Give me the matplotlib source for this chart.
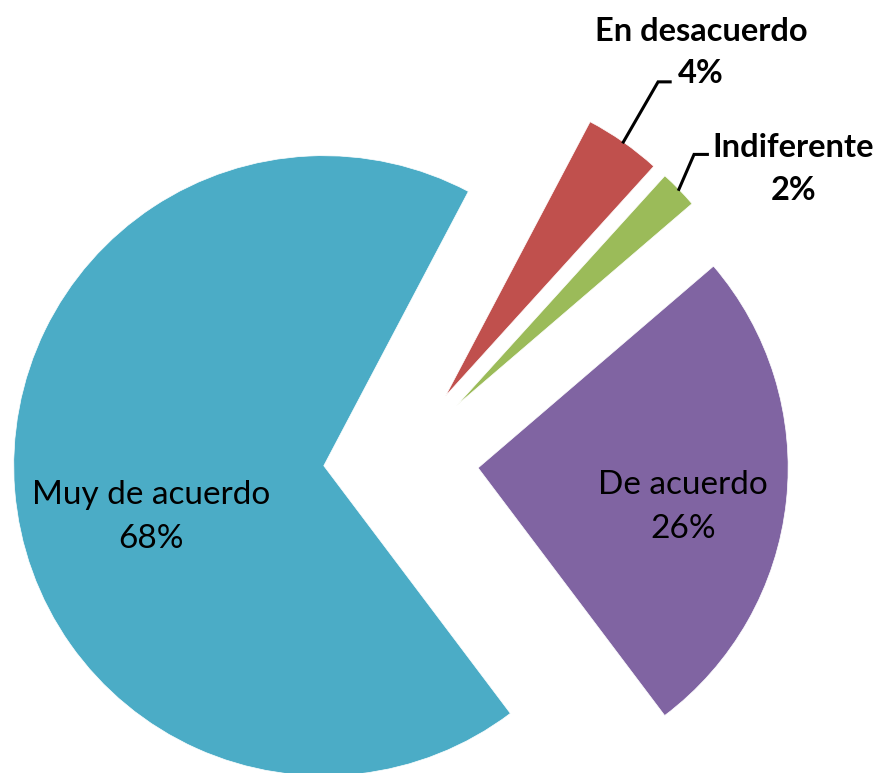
import numpy as np
import matplotlib
matplotlib.use('Agg')
import matplotlib.pyplot as plt

# Survey answers (percent).
categories = ['Muy de acuerdo', 'De acuerdo', 'Indiferente', 'En desacuerdo']
shares = [68, 26, 2, 4]
colors = ['#4BACC6', '#8064A2', '#9BBB59', '#C0504D']

plt.rcParams['font.family'] = ['Lato', 'DejaVu Sans']

fig = plt.figure(figsize=(8.81, 7.73), dpi=100)
ax = fig.add_axes([0, 0, 1, 1])

wedges, _ = ax.pie(shares, colors=colors, startangle=62.2, counterclock=True,
                   explode=[0.25] * len(shares), radius=1.0,
                   wedgeprops=dict(edgecolor='white', linewidth=0.5))

ax.set_xlim(-1.2935, 1.548)
ax.set_ylim(-1.011, 1.482)
ax.set_aspect('auto')
ax.axis('off')

labels = ['{}\n{}%'.format(c, s) for c, s in zip(categories, shares)]

# Inside labels.
inside_pos = {0: (-0.806, -0.185), 1: (0.910, -0.153)}
for i, pos in inside_pos.items():
    ax.text(pos[0], pos[1], labels[i], ha='center', va='center',
            fontsize=24, linespacing=1.6, color='#000000')

# Outside labels with leader lines (elbow point, line end, text centre).
outside = {
    3: ((0.829, 1.218), (0.868, 1.218), (0.968, 1.312)),
    2: ((0.945, 0.984), (0.988, 0.984), (1.265, 0.937)),
}
for i, (elbow, end, txt) in outside.items():
    w = wedges[i]
    mid = np.deg2rad((w.theta1 + w.theta2) / 2.)
    cx, cy = w.center
    start = (cx + w.r * np.cos(mid), cy + w.r * np.sin(mid))
    ax.plot([start[0], elbow[0], end[0]], [start[1], elbow[1], end[1]],
            color='#000000', lw=2.2, solid_joinstyle='miter')
    ax.text(txt[0], txt[1], labels[i], ha='center', va='center',
            fontsize=23.5, fontweight='bold', linespacing=1.55,
            color='#000000')

fig.savefig('out.png', dpi=100)
